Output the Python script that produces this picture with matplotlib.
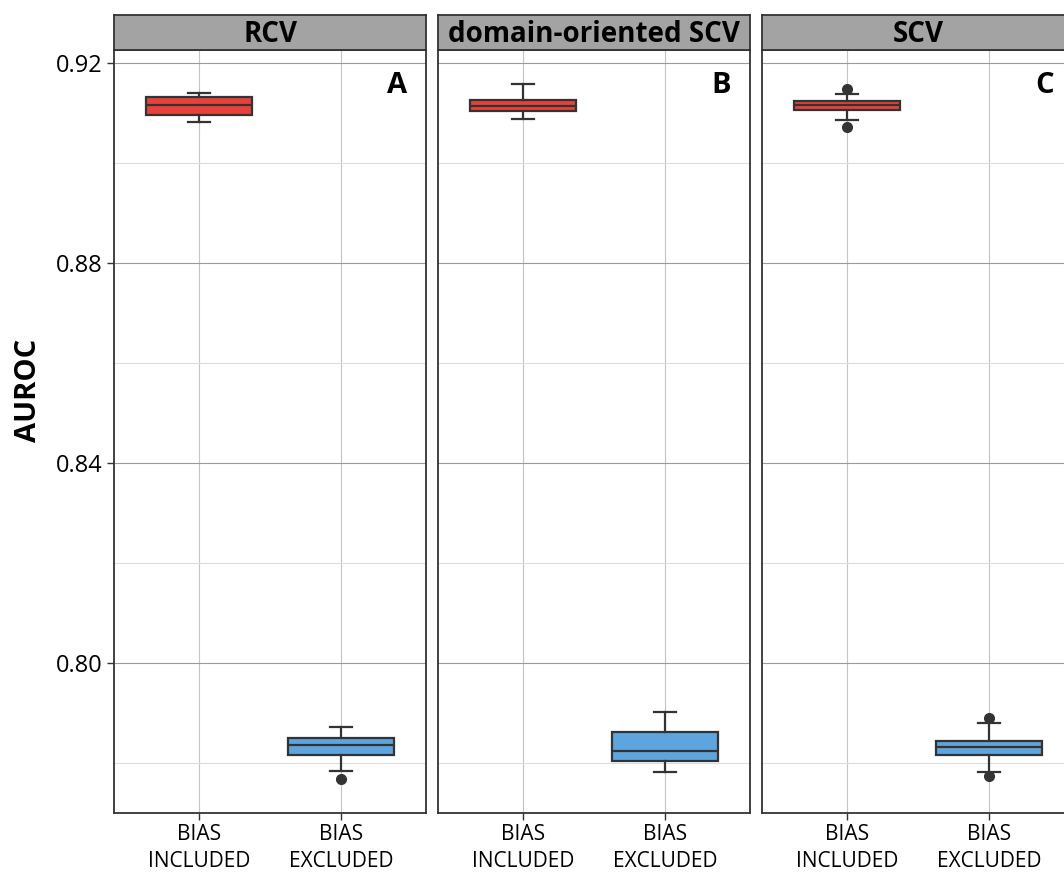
import matplotlib
matplotlib.use("Agg")
import matplotlib.pyplot as plt

plt.rcParams['font.family'] = ['Open Sans', 'DejaVu Sans']

# panel names, letters and categories
panels = ["RCV", "domain-oriented SCV", "SCV"]
letters = ["A", "B", "C"]
groups = ["BIAS\nINCLUDED", "BIAS\nEXCLUDED"]
colors = ["#E8413B", "#5FA5DD"]

# box statistics: (whislo, q1, med, q3, whishi, outliers)
rcv_stats = [
    (0.9082, 0.9097, 0.9117, 0.9131, 0.9139, []),
    (0.7783, 0.7817, 0.7837, 0.7850, 0.7871, [0.7768]),
]
dscv_stats = [
    (0.9088, 0.9103, 0.9113, 0.9127, 0.9157, []),
    (0.7782, 0.7803, 0.7823, 0.7862, 0.7901, []),
]
scv_stats = [
    (0.9085, 0.9107, 0.9115, 0.9123, 0.9137, [0.9148, 0.9072]),
    (0.7781, 0.7817, 0.7832, 0.7844, 0.7880, [0.7890, 0.7773]),
]
all_stats = [rcv_stats, dscv_stats, scv_stats]

W, H = 1064, 872
fig = plt.figure(figsize=(W / 100, H / 100), dpi=100)

lefts = [114, 438, 762]
pw = 312
top, bottom, strip_h = 50, 813, 35
edge = "#333333"

for i, left in enumerate(lefts):
    ax = fig.add_axes([left / W, (H - bottom) / H, pw / W, (bottom - top) / H])
    stats = []
    for s in all_stats[i]:
        stats.append(dict(whislo=s[0], q1=s[1], med=s[2], q3=s[3], whishi=s[4], fliers=s[5]))
    bp = ax.bxp(stats, positions=[1, 2], widths=0.75, patch_artist=True,
                boxprops=dict(edgecolor=edge, linewidth=1.6),
                medianprops=dict(color=edge, linewidth=1.6),
                whiskerprops=dict(color=edge, linewidth=1.6),
                capprops=dict(color=edge, linewidth=1.6),
                flierprops=dict(marker="o", markerfacecolor=edge, markeredgecolor=edge, markersize=7),
                capwidths=0.15, zorder=3)
    for patch, c in zip(bp["boxes"], colors):
        patch.set_facecolor(c)

    ax.set_xlim(0.4, 2.6)
    ax.set_ylim(0.770, 0.9226)
    ax.set_yticks([0.80, 0.84, 0.88, 0.92])
    ax.set_yticks([0.78, 0.82, 0.86, 0.90], minor=True)
    ax.set_xticks([1, 2])
    ax.set_xticklabels(groups, fontsize=15, linespacing=1.35)
    ax.grid(True, which="major", axis="y", color="#9a9a9a", linewidth=0.8, zorder=0)
    ax.grid(True, which="minor", axis="y", color="#dcdcdc", linewidth=0.8, zorder=0)
    ax.grid(True, which="major", axis="x", color="#c4c4c4", linewidth=0.8, zorder=0)
    ax.tick_params(axis="x", length=5, width=1, color=edge, pad=3)
    ax.tick_params(axis="y", which="minor", length=0)
    if i == 0:
        ax.set_yticklabels(["0.80", "0.84", "0.88", "0.92"], fontsize=17)
        ax.tick_params(axis="y", which="major", length=5, width=1, color=edge, pad=3)
    else:
        ax.tick_params(axis="y", which="major", length=0, labelleft=False)
    for sp in ax.spines.values():
        sp.set_color(edge)
        sp.set_linewidth(1.3)
    ax.text(0.907, 0.954, letters[i], transform=ax.transAxes, fontsize=21,
            fontweight="bold", ha="center", va="center")

    sax = fig.add_axes([left / W, (H - top) / H, pw / W, strip_h / H])
    sax.set_facecolor("#a3a3a3")
    sax.set_xticks([])
    sax.set_yticks([])
    for sp in sax.spines.values():
        sp.set_color(edge)
        sp.set_linewidth(1.3)
    sax.text(0.5, 0.45, panels[i], transform=sax.transAxes, fontsize=20,
             fontweight="bold", ha="center", va="center")

fig.text(29 / W, (H - 390) / H, "AUROC", rotation=90, fontsize=21,
         fontweight="bold", ha="center", va="center")

fig.savefig("out.png", dpi=100)
